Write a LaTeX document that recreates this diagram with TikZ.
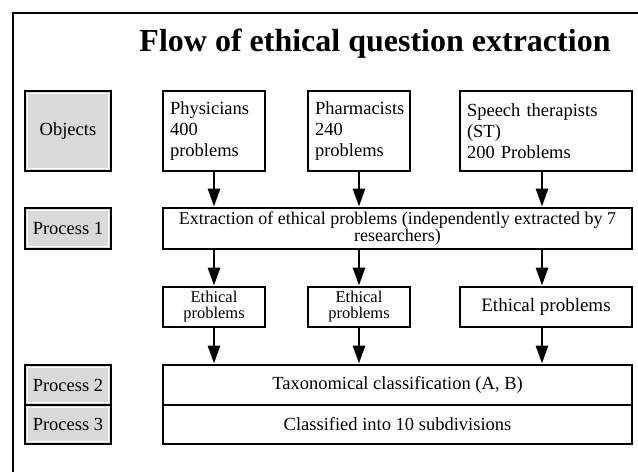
\documentclass[tikz,border=0pt]{standalone}
\usepackage{fontspec}
\setmainfont{Liberation Serif}
\usetikzlibrary{arrows.meta,positioning}

\begin{document}
\begin{tikzpicture}[x=1pt, y=-1pt, line width=2.8pt,
      >={Triangle[length=18pt,width=12pt]},
      every node/.append style={draw,inner sep=0pt,font=\fontsize{18.5}{21}\selectfont}]
    \tikzstyle{stage} = [fill=gray!30,minimum width=86pt,
      path picture={\draw[white,line width=1.2pt]
        ([shift={(2.8pt,-2.8pt)}]path picture bounding box.north west) rectangle
        ([shift={(-2.8pt,2.8pt)}]path picture bounding box.south east);}]
    \tikzstyle{group} = [fill=white,align=left,inner xsep=7pt,minimum height=80pt]
    \tikzstyle{result} = [fill=white,align=center,minimum height=40pt]
    \tikzstyle{wide} = [fill=white,align=center,minimum width=469pt]
    \useasboundingbox (0,0) rectangle (638,472);
    \draw[line width=2.5pt] (13,472) -- (13,13) -- (638,13);
    \node[draw=none,anchor=base,font=\fontsize{32}{36}\selectfont\bfseries] (title) at (375,51)
      {Flow of ethical question extraction};
    \node[stage,minimum height=80pt] (objects) at (68,131) {Objects};
    \node[group,text width=88pt] (phys) at (214,131) {Physicians\\400\\problems};
    \node[group,text width=88pt] (pharm) at (359,131) {Pharmacists\\240\\problems};
    \node[group,text width=158pt] (st) at (546,131) {Speech therapists\\(ST)\\200 Problems};
    \node[stage,minimum height=41pt] (proc1) at (68,228.5) {Process 1};
    \node[wide,minimum height=41pt,font=\fontsize{18}{16.5}\selectfont] (extract) at (397.5,228.5)
      {Extraction of ethical problems (independently extracted by 7\\researchers)};
    \node[result,minimum width=102pt,font=\fontsize{16.5}{16}\selectfont] (eth1) at (214,307) {Ethical\\problems};
    \node[result,minimum width=102pt,font=\fontsize{16.5}{16}\selectfont] (eth2) at (359,307) {Ethical\\problems};
    \node[result,minimum width=172pt,font=\fontsize{19}{21}\selectfont] (eth3) at (546,307) {Ethical problems};
    \node[stage,minimum height=40pt] (proc2) at (68,385) {Process 2};
    \node[stage,minimum height=39pt] (proc3) at (68,424.5) {Process 3};
    \node[wide,minimum height=40pt] (taxo) at (397.5,385) {Taxonomical classification (A, B)};
    \node[wide,minimum height=39pt] (subdiv) at (397.5,424.5) {Classified into 10 subdivisions};
    \draw[->] (phys) -- (phys |- extract.north);
    \draw[->] (pharm) -- (pharm |- extract.north);
    \draw[->] ([xshift=-4pt]st.south) -- ([xshift=-4pt]st.south |- extract.north);
    \draw[->] (extract.south -| eth1) -- (eth1);
    \draw[->] (extract.south -| eth2) -- (eth2);
    \draw[->] ([xshift=-4pt]extract.south -| eth3) -- ([xshift=-4pt]eth3.north);
    \draw[->] (eth1) -- (eth1 |- taxo.north);
    \draw[->] (eth2) -- (eth2 |- taxo.north);
    \draw[->] ([xshift=-4pt]eth3.south) -- ([xshift=-4pt]eth3.south |- taxo.north);
\end{tikzpicture}
\end{document}
